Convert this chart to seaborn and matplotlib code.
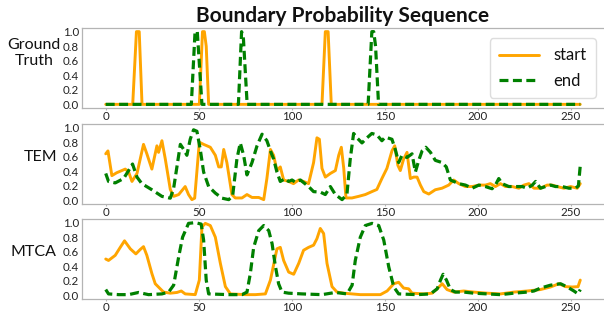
import matplotlib
matplotlib.use("Agg")
import matplotlib.pyplot as plt
import seaborn as sns

# ---------------- data ----------------
x_ticks = [0, 50, 100, 150, 200, 250]
y_ticks = [0.0, 0.2, 0.4, 0.6, 0.8, 1.0]
row_labels = ["Ground\nTruth", "TEM", "MTCA"]
title = "Boundary Probability Sequence"

gt_start_x = [0, 14.5, 16.5, 18, 19.5, 50.3, 52, 53, 54, 55.3, 116.2, 118, 119.5, 121.2, 255]
gt_start_y = [0, 0, 1, 1, 0, 0, 1, 1, 0.8, 0, 0, 1, 1, 0, 0]

gt_end_x = [0, 46, 48, 49.2, 51.7, 71.3, 73, 74, 76, 141, 143, 144, 145, 146.6, 255]
gt_end_y = [0, 0, 1, 1, 0, 0, 1, 0.9, 0, 0, 1, 1, 0.8, 0, 0]

tem_start_x = [0, 1.2, 3.3, 5.9, 10.5, 12.3, 14.1, 16.8, 20.3, 22.1, 24.8, 27.5, 28.4, 30.2,
               32, 34.7, 36.5, 39.2, 42.7, 44.5, 46.3, 47.8, 50.3, 52.6, 56.2, 58.9, 60.7,
               62.1, 63.4, 65.1, 67.8, 69.6, 73.2, 75.9, 78.6, 82.2, 84.9, 86.6, 88.5, 90.2,
               92, 93.8, 95.6, 98.3, 100.9, 103.6, 106.3, 109, 111.7, 113.5, 114.8, 116.2,
               118, 120.7, 123.4, 125.2, 126.6, 127.9, 129.1, 132.3, 135.9, 139.5, 143,
               145.7, 148.4, 151.1, 153.8, 155.3, 157, 158.3, 160.1, 161.9, 163.7, 165.5,
               167.3, 169.1, 170.9, 173.6, 177.1, 180.7, 184.3, 187, 189.7, 193.3, 196.9,
               200.5, 204, 206.7, 209.4, 212.1, 214.8, 218.4, 222, 224.7, 227.4, 230.1,
               233.6, 237.2, 239.9, 242.6, 246.2, 249.8, 253.4, 255]
tem_start_y = [0.64, 0.68, 0.34, 0.38, 0.43, 0.39, 0.26, 0.37, 0.77, 0.64, 0.43, 0.75, 0.66, 0.82,
               0.57, 0.15, 0.055, 0.08, 0.19, 0.08, 0.01, 0.03, 0.80, 0.77, 0.73, 0.62, 0.46,
               0.46, 0.70, 0.52, 0.08, 0.033, 0.033, 0.08, 0.04, 0.04, 0.01, 0.30, 0.70, 0.62,
               0.41, 0.46, 0.28, 0.26, 0.23, 0.28, 0.26, 0.23, 0.52, 0.86, 0.84, 0.44,
               0.32, 0.37, 0.41, 0.62, 0.73, 0.44, 0.033, 0.033, 0.055, 0.08, 0.12,
               0.15, 0.30, 0.44, 0.68, 0.75, 0.48, 0.41, 0.57, 0.66, 0.30, 0.32,
               0.32, 0.21, 0.12, 0.087, 0.146, 0.167, 0.21, 0.28, 0.23, 0.19, 0.19,
               0.21, 0.21, 0.23, 0.19, 0.23, 0.19, 0.19, 0.167, 0.21, 0.23, 0.167,
               0.167, 0.21, 0.21, 0.19, 0.167, 0.19, 0.167, 0.23]

tem_end_x = [0, 1.5, 5.1, 9.6, 12.3, 14.4, 16.8, 19.4, 24.8, 30.2, 34.7, 36.5, 40.1, 41.9, 43.6,
             45.4, 47.2, 49, 50.8, 52.6, 55.3, 58.9, 62.5, 66.1, 68.2, 70.5, 72.3, 74.1, 75.9,
             78.6, 81.3, 84, 86.6, 88.5, 90.2, 92, 93.8, 96.5, 98.3, 100.1, 101.9, 104.6, 109,
             111.7, 115.3, 118, 120.7, 123.4, 127, 129.6, 131.4, 133.2, 135, 137.7, 140.4,
             143, 145.7, 148.4, 150.2, 153.8, 155.6, 157.4, 159.2, 161.9, 164.6, 166.4,
             168.2, 170, 172, 174.5, 177.1, 180.7, 183, 185.2, 187, 189.7, 193.3, 196.9,
             200.5, 204, 207.6, 209.4, 211.2, 213, 216.6, 220.2, 223.8, 226.5, 229.2, 231,
             233.6, 236.3, 239, 241.7, 245.3, 248.9, 252.5, 254, 255]
tem_end_y = [0.37, 0.26, 0.24, 0.30, 0.41, 0.50, 0.32, 0.23, 0.146, 0.055, 0.03, 0.167, 0.77,
             0.70, 0.62, 0.84, 0.97, 0.95, 0.70, 0.39, 0.19, 0.10, 0.03, 0.01, 0.06, 0.57,
             0.79, 0.62, 0.35, 0.52, 0.75, 0.91, 0.82, 0.68, 0.57, 0.39, 0.26, 0.30, 0.26,
             0.28, 0.25, 0.28, 0.19, 0.12, 0.114, 0.08, 0.19, 0.08, 0.01, 0.08, 0.57, 0.92,
             0.86, 0.79, 0.86, 0.92, 0.90, 0.82, 0.87, 0.84, 0.70, 0.52, 0.62, 0.59, 0.64,
             0.39, 0.55, 0.68, 0.73, 0.66, 0.55, 0.52, 0.46, 0.28, 0.26, 0.23, 0.21, 0.167,
             0.21, 0.19, 0.16, 0.21, 0.30, 0.23, 0.19, 0.19, 0.19, 0.167, 0.21, 0.26,
             0.167, 0.19, 0.21, 0.19, 0.19, 0.167, 0.167, 0.20, 0.48]

mtca_start_x = [0, 1.5, 5.1, 7.8, 10.1, 13.2, 16.2, 18.5, 20.3, 22.1, 24.8, 26.6, 29.3, 31.1,
                34.7, 38.3, 40.6, 42.7, 48.1, 50.3, 51.7, 53.5, 56.2, 58.9, 61.6, 64.3, 67,
                75, 80.4, 85.8, 88.5, 92, 93.8, 95.6, 98.3, 101, 103.7, 106.3, 109, 111.7,
                113.5, 115.3, 117.1, 118.9, 121.6, 124.3, 127.9, 136.8, 147.6, 151.2, 154.8,
                157.4, 160.1, 162.8, 164.6, 170.9, 175.4, 178.1, 180.8, 183.4, 187, 192.4,
                197.8, 205, 212.1, 219.3, 226.5, 233.6, 239, 243.5, 247.1, 250.7, 253.8, 255]
mtca_start_y = [0.50, 0.48, 0.55, 0.66, 0.75, 0.64, 0.57, 0.63, 0.67, 0.55, 0.30, 0.16, 0.09,
                0.045, 0.03, 0.04, 0.06, 0.02, 0.01, 0.21, 0.94, 0.99, 0.96, 0.80, 0.44, 0.12,
                0.02, 0.01, 0.01, 0.02, 0.21, 0.64, 0.66, 0.48, 0.32, 0.29, 0.44, 0.62, 0.66,
                0.69, 0.78, 0.92, 0.85, 0.44, 0.12, 0.045, 0.03, 0.01, 0.01, 0.06, 0.16,
                0.18, 0.10, 0.09, 0.03, 0.02, 0.03, 0.09, 0.16, 0.08, 0.045, 0.06,
                0.045, 0.03, 0.02, 0.045, 0.06, 0.08, 0.115, 0.16, 0.12, 0.115, 0.12, 0.21]

mtca_end_x = [0, 1.5, 7, 12.3, 17.6, 23, 30.2, 33.8, 36.5, 39.2, 41.3, 44.5, 48.1, 51.3, 52.6,
              54, 55.3, 66, 73.2, 75.9, 77.7, 79.5, 82.2, 84.9, 87.6, 89.4, 91.1, 92.9, 94.7,
              98.3, 105.5, 116.2, 123.4, 129.7, 132.4, 134.1, 136.8, 139.5, 143.1, 146.7,
              149.4, 152.1, 154.8, 157.4, 167.3, 174.5, 178.1, 179.9, 181.3, 183.1, 185.2,
              187.9, 192.4, 197.8, 205, 212.1, 219.3, 226.5, 230.1, 233.6, 239, 244.4, 248,
              251.6, 253.8, 255]
mtca_end_y = [0.08, 0.02, 0.01, 0.01, 0.04, 0.01, 0.02, 0.045, 0.14, 0.53, 0.80, 0.99, 1.0,
              0.98, 0.76, 0.21, 0.02, 0.01, 0.01, 0.045, 0.30, 0.66, 0.89, 0.96, 0.89, 0.71,
              0.41, 0.16, 0.045, 0.03, 0.02, 0.01, 0.04, 0.02, 0.14, 0.48, 0.80, 0.96, 0.99,
              0.96, 0.76, 0.39, 0.115, 0.02, 0.01, 0.02, 0.09, 0.21, 0.29, 0.21, 0.08,
              0.045, 0.045, 0.03, 0.02, 0.01, 0.03, 0.045, 0.06, 0.10, 0.14, 0.16, 0.115,
              0.06, 0.02, 0.08]

# ---------------- style ----------------
sns.set_style("white")
plt.rcParams["font.family"] = ["Lato", "DejaVu Sans"]

W, H = 604, 312
fig = plt.figure(figsize=(W / 100, H / 100), dpi=100)

left_px, right_px = 82, 604
tops = [28, 124, 219]
ax_h = 80

series = [
    (gt_start_x, gt_start_y, gt_end_x, gt_end_y),
    (tem_start_x, tem_start_y, tem_end_x, tem_end_y),
    (mtca_start_x, mtca_start_y, mtca_end_x, mtca_end_y),
]
label_x = [-0.092, -0.080, -0.092]

start_color = "#FFA500"
end_color = "#008000"
spine_c = "#b4b4b4"

axes = []
for i, (sx, sy, ex, ey) in enumerate(series):
    top = tops[i]
    ax = fig.add_axes([left_px / W, 1 - (top + ax_h) / H, (right_px - left_px) / W, ax_h / H])
    sns.lineplot(x=sx, y=sy, ax=ax, color=start_color, linewidth=2.1,
                 label="start" if i == 0 else None, legend=False)
    sns.lineplot(x=ex, y=ey, ax=ax, color=end_color, linewidth=2.3,
                 linestyle=(0, (2.8, 1.4)), label="end" if i == 0 else None, legend=False)
    ax.set_xlim(-12.75, 267.75)
    ax.set_ylim(-0.05, 1.05)
    ax.set_xticks(x_ticks)
    ax.set_yticks(y_ticks)
    ax.set_xticklabels([str(t) for t in x_ticks])
    ax.set_yticklabels([f"{t:.1f}" for t in y_ticks])
    ax.tick_params(axis="y", length=0, pad=2.0, labelsize=8.3, labelcolor="#222222")
    ax.tick_params(axis="x", length=1.5, width=0.8, color=spine_c, pad=0.6, labelsize=8.3,
                   labelcolor="#222222", bottom=True)
    for s in ["top", "left", "bottom"]:
        ax.spines[s].set_color(spine_c)
        ax.spines[s].set_linewidth(0.9)
    ax.spines["right"].set_visible(False)
    ax.set_xlabel("")
    ax.set_ylabel(row_labels[i], rotation=0, fontsize=11.5, ha="center", va="bottom",
                  multialignment="center", color="#111111")
    ax.yaxis.set_label_coords(label_x[i], 0.5)
    axes.append(ax)

axes[0].set_title(title, fontsize=15, fontweight="bold", pad=4.0, color="#111111")

handles, labels = axes[0].get_legend_handles_labels()
leg = axes[0].legend(handles, labels, loc="upper right",
                     bbox_to_anchor=(595.7 / W, 1 - 38.3 / H),
                     bbox_transform=fig.transFigure, borderaxespad=0,
                     fontsize=12, handlelength=2.4, handletextpad=0.85,
                     labelspacing=0.55, borderpad=0.55, frameon=True,
                     edgecolor="#dddddd", fancybox=True, framealpha=1)
for t in leg.get_texts():
    t.set_color("#111111")

fig.savefig("out.png", dpi=100)
